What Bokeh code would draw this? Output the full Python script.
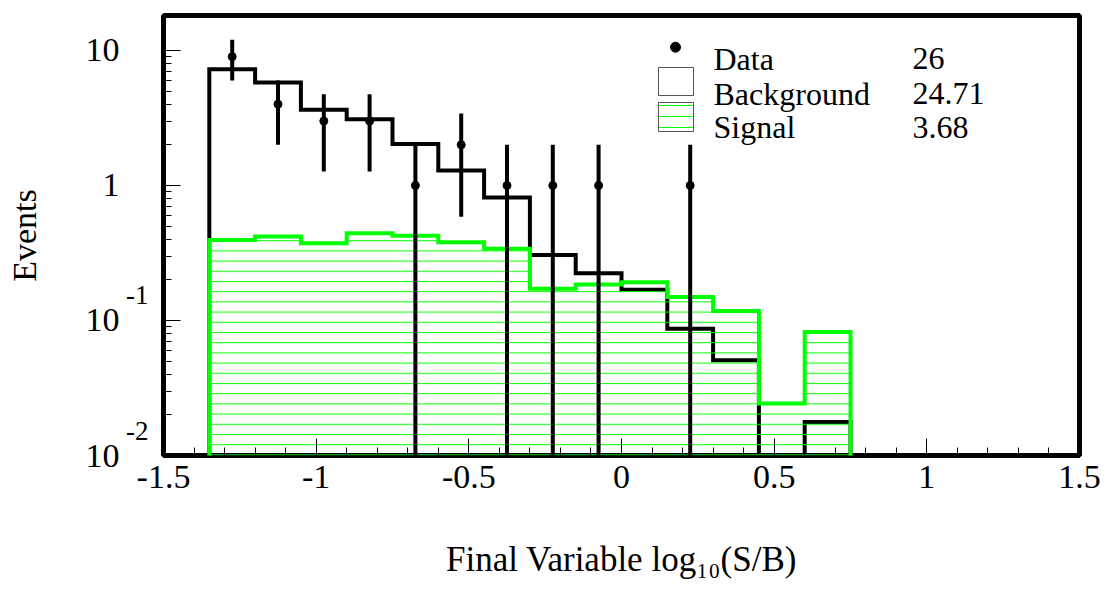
import math
from bokeh.plotting import figure
from bokeh.models import Label, FixedTicker, LogAxis, Range1d, LogScale
from bokeh.embed import file_html
from bokeh.resources import INLINE

# ---------------- data ----------------
bin_edges = [-1.35, -1.2, -1.05, -0.9, -0.75, -0.6, -0.45, -0.3, -0.15, 0.0, 0.15, 0.3, 0.45, 0.6, 0.75]
background = [7.26, 5.78, 3.63, 3.10, 2.03, 1.29, 0.816, 0.306, 0.224, 0.169, 0.087, 0.0507, 0.0, 0.0177]
signal = [0.395, 0.419, 0.373, 0.443, 0.424, 0.380, 0.340, 0.172, 0.185, 0.192, 0.149, 0.1175, 0.0243, 0.082]
data_counts = [9, 4, 3, 3, 1, 2, 1, 1, 1, 0, 1, 0, 0, 0]

legend_names = ["Data", "Background", "Signal"]
legend_totals = ["26", "24.71", "3.68"]

x_ticks = [-1.5, -1.0, -0.5, 0.0, 0.5, 1.0, 1.5]
x_tick_labels = ["-1.5", "-1", "-0.5", "0", "0.5", "1", "1.5"]
y_ticks = [0.01, 0.1, 1.0, 10.0]
y_tick_base = ["10", "10", "1", "10"]
y_exp_ticks = [0.01, 0.1]
y_tick_exp = ["-2", "-1"]
x_title = "Final Variable log\u2081\u2080(S/B)"
y_title = "Events"

# ---------------- layout ----------------
X0, X1 = -1.5, 1.5
Y0, Y1 = 0.01, 18.15
W, H = 1110, 592
FL, FR, FT, FB = 163, 1079, 15, 455
FW, FH = FR - FL, FB - FT
FLOOR = 1e-4
FONT = "Liberation Serif"
GREEN = "#00ff00"
DECADES = math.log10(Y1) - math.log10(Y0)
EXP_SHIFT = 10 ** (25 / FH * DECADES)   # exponent labels sit 25 px above their tick


def ndc_x(px):
    return X0 + px / FW * (X1 - X0)


def ndc_y(py):
    return 10 ** (math.log10(Y0) + py / FH * DECADES)


p = figure(width=W, height=H, x_range=(X0, X1), y_range=(Y0, Y1), y_axis_type="log",
           output_backend="svg", toolbar_location=None,
           min_border_left=FL, min_border_right=W - FR, min_border_top=FT, min_border_bottom=H - FB)
p.grid.visible = False
p.outline_line_color = "black"
p.outline_line_width = 5
p.background_fill_color = "white"
p.border_fill_color = "white"

# x axis
xa = p.xaxis[0]
minor_x = [round(-1.5 + 0.1 * i, 2) for i in range(31)]
xa.ticker = FixedTicker(ticks=x_ticks, minor_ticks=minor_x)
xa.major_label_overrides = dict(zip(x_ticks, x_tick_labels))
xa.major_label_text_font = FONT
xa.major_label_text_font_size = "34px"
xa.major_label_text_color = "black"
xa.major_label_standoff = 10
xa.axis_line_color = None
xa.major_tick_in = 17
xa.major_tick_out = 0
xa.minor_tick_in = 8
xa.minor_tick_out = 0
xa.major_tick_line_color = "black"
xa.minor_tick_line_color = "black"
xa.axis_label = x_title
xa.axis_label_text_font = FONT
xa.axis_label_text_font_size = "35px"
xa.axis_label_text_font_style = "normal"
xa.axis_label_text_color = "black"
xa.axis_label_standoff = 49

# y axis: tick marks only (innermost)
ya = p.yaxis[0]
minor_y = [m * t for t in [0.01, 0.1, 1.0] for m in range(2, 10)]
ya.ticker = FixedTicker(ticks=y_ticks, minor_ticks=minor_y)
ya.major_label_text_font_size = "0px"
ya.major_label_text_color = None
ya.major_label_standoff = 0
ya.axis_line_color = None
ya.major_tick_in = 17
ya.major_tick_out = 0
ya.minor_tick_in = 8
ya.minor_tick_out = 0
ya.major_tick_line_color = "black"
ya.minor_tick_line_color = "black"

# exponent labels (second axis, raised range)
p.extra_y_ranges = {"exp": Range1d(Y0 / EXP_SHIFT, Y1 / EXP_SHIFT)}
p.extra_y_scales = {"exp": LogScale()}
ya_exp = LogAxis(y_range_name="exp", ticker=FixedTicker(ticks=y_exp_ticks, minor_ticks=[]),
                 major_label_overrides=dict(zip(y_exp_ticks, y_tick_exp)),
                 major_label_text_font=FONT, major_label_text_font_size="27px",
                 major_label_text_color="black", major_label_standoff=15,
                 axis_line_color=None, major_tick_line_color=None, minor_tick_line_color=None,
                 major_tick_in=0, major_tick_out=0, minor_tick_in=0, minor_tick_out=0)
p.add_layout(ya_exp, "left")

# base labels "10", "1" (outer axis) with the axis title
ya_base = LogAxis(ticker=FixedTicker(ticks=y_ticks, minor_ticks=[]),
                  major_label_overrides=dict(zip(y_ticks, y_tick_base)),
                  major_label_text_font=FONT, major_label_text_font_size="34px",
                  major_label_text_color="black", major_label_standoff=4,
                  axis_line_color=None, major_tick_line_color=None, minor_tick_line_color=None,
                  major_tick_in=0, major_tick_out=0, minor_tick_in=0, minor_tick_out=0,
                  axis_label=y_title, axis_label_text_font=FONT, axis_label_text_font_size="34px",
                  axis_label_text_font_style="normal", axis_label_text_color="black",
                  axis_label_standoff=40)
p.add_layout(ya_base, "left")


def step_xy(edges, vals):
    xs, ys = [edges[0]], [FLOOR]
    for i, v in enumerate(vals):
        vv = v if v > 0 else FLOOR
        xs += [edges[i], edges[i + 1]]
        ys += [vv, vv]
    xs.append(edges[-1])
    ys.append(FLOOR)
    return xs, ys


bx, by = step_xy(bin_edges, background)
p.line(bx, by, line_color="black", line_width=4, line_join="miter")

sx, sy = step_xy(bin_edges, signal)
p.patch(sx, sy, fill_color=None, line_color=GREEN, line_width=4, line_join="miter",
        hatch_pattern="horizontal_line", hatch_color=GREEN, hatch_scale=10.2, hatch_weight=1)

centers = [(bin_edges[i] + bin_edges[i + 1]) / 2 for i in range(len(data_counts))]
dx = [c for c, n in zip(centers, data_counts) if n > 0]
dy = [n for n in data_counts if n > 0]
dlo = [max(n - math.sqrt(n), FLOOR) for n in dy]
dhi = [n + math.sqrt(n) for n in dy]
p.segment(x0=dx, y0=dlo, x1=dx, y1=dhi, line_color="black", line_width=4)
p.scatter(dx, dy, size=8, color="black")

# ---------------- legend ----------------
p.scatter([ndc_x(512)], [ndc_y(408.3)], size=10, color="black")
p.quad(left=[ndc_x(495)], right=[ndc_x(530)], bottom=[ndc_y(360)], top=[ndc_y(388)],
       fill_color="white", line_color="#555555", line_width=1)
p.quad(left=[ndc_x(495)], right=[ndc_x(530)], bottom=[ndc_y(324)], top=[ndc_y(353)],
       fill_color=None, line_color="#555555", line_width=1,
       hatch_pattern="horizontal_line", hatch_color=GREEN, hatch_scale=11, hatch_weight=1)
baselines = [396.7, 361.7, 328.3]
for name, tot, b in zip(legend_names, legend_totals, baselines):
    p.add_layout(Label(x=550, y=b, x_units="screen", y_units="screen", text=name,
                       text_align="left", text_baseline="alphabetic",
                       text_font=FONT, text_font_size="32px", text_color="black"))
    p.add_layout(Label(x=749, y=b, x_units="screen", y_units="screen", text=tot,
                       text_align="left", text_baseline="alphabetic",
                       text_font=FONT, text_font_size="32px", text_color="black"))

open("out.html", "w").write(file_html(p, INLINE))
